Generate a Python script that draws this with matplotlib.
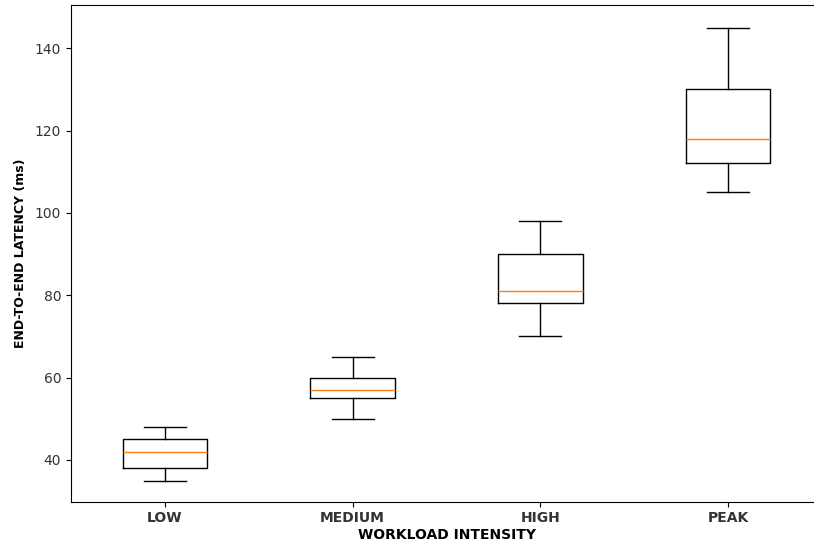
import matplotlib
matplotlib.use("Agg")
import matplotlib.pyplot as plt

categories = ["LOW", "MEDIUM", "HIGH", "PEAK"]
whisker_low = [35, 50, 70, 105]
q1 = [38, 55, 78, 112]
median = [42, 57, 81, 118]
q3 = [45, 60, 90, 130]
whisker_high = [48, 65, 98, 145]

stats = []
for i, name in enumerate(categories):
    stats.append(dict(label=name, whislo=whisker_low[i], q1=q1[i], med=median[i],
                      q3=q3[i], whishi=whisker_high[i], fliers=[]))

fig = plt.figure(figsize=(8.14, 5.46), dpi=100)
ax = fig.add_axes([71 / 814, 44.5 / 546, 751 / 814, 497 / 546])
ax.bxp(stats, showfliers=False, widths=0.45)
ax.set_xlim(0.5, 4.5)
ax.set_ylim(29.9, 150.6)
ax.set_yticks([40, 60, 80, 100, 120, 140])
ax.spines["right"].set_visible(False)
for lbl in ax.get_xticklabels():
    lbl.set_fontweight("bold")
ax.tick_params(axis="both", labelsize=10, labelcolor="#333333")
ax.set_xlabel("WORKLOAD INTENSITY", fontweight="bold", fontsize=10, labelpad=2)
ax.set_ylabel("END-TO-END LATENCY (ms)", fontweight="bold", fontsize=9, labelpad=6)

fig.savefig("out.png", dpi=100)
